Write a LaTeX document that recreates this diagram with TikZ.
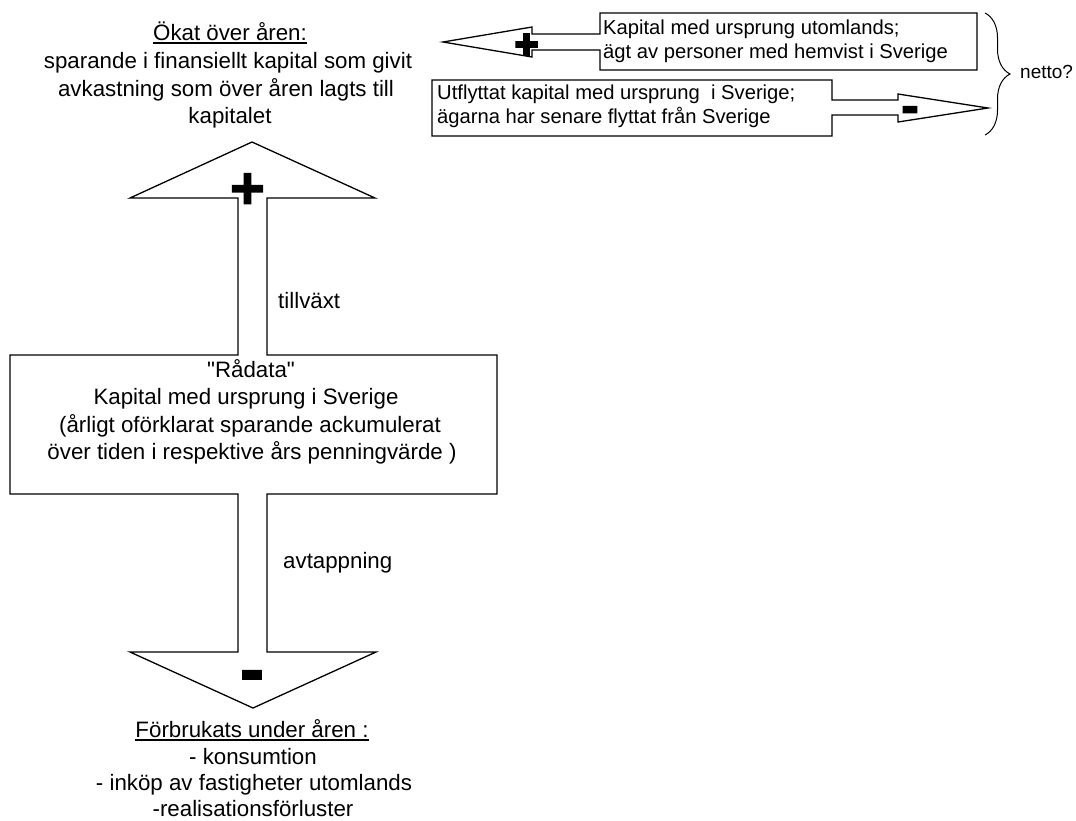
\documentclass[tikz,border=0pt]{standalone}
\usepackage{fontspec}
\setmainfont{Liberation Sans}
\newfontfamily\signbig{Liberation Sans}[FakeBold=2]
\newfontfamily\signsmall{Liberation Sans}[FakeBold=6]
\usetikzlibrary{decorations.pathreplacing}
\begin{document}
\begin{tikzpicture}[x=1pt,y=-1pt,
  outline/.style={draw=black, line width=1.3pt, line join=miter, fill=white},
  bigtxt/.style={font=\fontsize{22.3}{27}\selectfont, inner sep=0pt, anchor=base},
  boxtxt/.style={font=\fontsize{20.2}{24}\selectfont, inner sep=0pt, anchor=base west},
  sign/.style={inner sep=0pt, anchor=center},
  uline/.style={line width=1.1pt}]
\useasboundingbox (0,0) rectangle (1076,820);

% ---------- main shape: up arrow, box, down arrow ----------
\coordinate (upTip) at (252,142);
\coordinate (downTip) at (253,708);
\draw[outline] (upTip) -- (375,198) -- (267,198) -- (267,355) -- (497,355)
  -- (497,494) -- (267,494) -- (267,652) -- (376,652) -- (downTip)
  -- (130,652) -- (238,652) -- (238,494) -- (10,494) -- (10,355)
  -- (238,355) -- (238,198) -- (130,198) -- cycle;

\node[sign, font=\signbig\fontsize{60}{60}\selectfont\bfseries] (plusBig) at (247.5,191) {+};
\node[sign, font=\signbig\fontsize{72}{72}\selectfont\bfseries] (minusBig) at (252,682) {-};

% ---------- top text ----------
\node[bigtxt] (t1) at (230,40) {Ökat över åren:};
\node[bigtxt] (t2) at (228,68) {sparande i finansiellt kapital som givit};
\node[bigtxt] (t3) at (226,96) {avkastning som över åren lagts till};
\node[bigtxt] (t4) at (230,123) {kapitalet};
\draw[uline] ([yshift=-3pt]t1.base west) -- ([yshift=-3pt]t1.base east);

% ---------- box text ----------
\node[bigtxt] (r1) at (251,377) {\textquotedbl Rådata\textquotedbl};
\node[bigtxt] (r2) at (246,404.5) {Kapital med ursprung i Sverige};
\node[bigtxt] (r3) at (250,432) {(årligt oförklarat sparande ackumulerat};
\node[bigtxt] (r4) at (252,459.5) {över tiden i respektive års penningvärde )};

\node[bigtxt, anchor=base west] (grow) at (278,308) {tillväxt};
\node[bigtxt, anchor=base west] (drain) at (283,568) {avtappning};

% ---------- bottom text ----------
\node[bigtxt] (b1) at (252,737) {Förbrukats under åren :};
\node[bigtxt] (b2) at (253,764) {- konsumtion};
\node[bigtxt] (b3) at (254,790) {- inköp av fastigheter utomlands};
\node[bigtxt] (b4) at (253,816) {-realisationsförluster};
\draw[uline] ([yshift=-3pt]b1.base west) -- ([yshift=-3pt]b1.base east);

% ---------- upper right: inflow arrow ----------
\coordinate (inTip) at (443,42);
\draw[outline] (inTip) -- (532,27) -- (532,34) -- (600,34) -- (600,13)
  -- (977,13) -- (977,70) -- (600,70) -- (600,50) -- (532,50) -- (532,57) -- cycle;
\node[sign, font=\signsmall\fontsize{40}{40}\selectfont\bfseries] (plusSmall) at (526.5,46) {+};
\node[boxtxt] (u1) at (603,34) {Kapital med ursprung utomlands;};
\node[boxtxt] (u2) at (603,58) {ägt av personer med hemvist i Sverige};

% ---------- lower: outflow arrow ----------
\coordinate (outTip) at (988,108);
\draw[outline] (432,80) -- (832,80) -- (832,100) -- (898,100) -- (898,94)
  -- (outTip) -- (898,122) -- (898,115) -- (832,115) -- (832,136) -- (432,136) -- cycle;
\node[sign, font=\signbig\fontsize{54}{54}\selectfont\bfseries] (minusSmall) at (910,115) {-};
\node[boxtxt] (l1) at (437,99) {Utflyttat kapital med ursprung\ \ i Sverige;};
\node[boxtxt] (l2) at (437,123) {ägarna har senare flyttat från Sverige};

% ---------- brace ----------
\coordinate (brTop) at (985,13);
\coordinate (brBot) at (985,135);
\draw[line width=1pt, decorate, decoration={brace, amplitude=25pt}] (brTop) -- (brBot);
\node[inner sep=0pt, anchor=base west, font=\fontsize{19}{22}\selectfont] (net) at (1020,78) {netto?};
\end{tikzpicture}
\end{document}
